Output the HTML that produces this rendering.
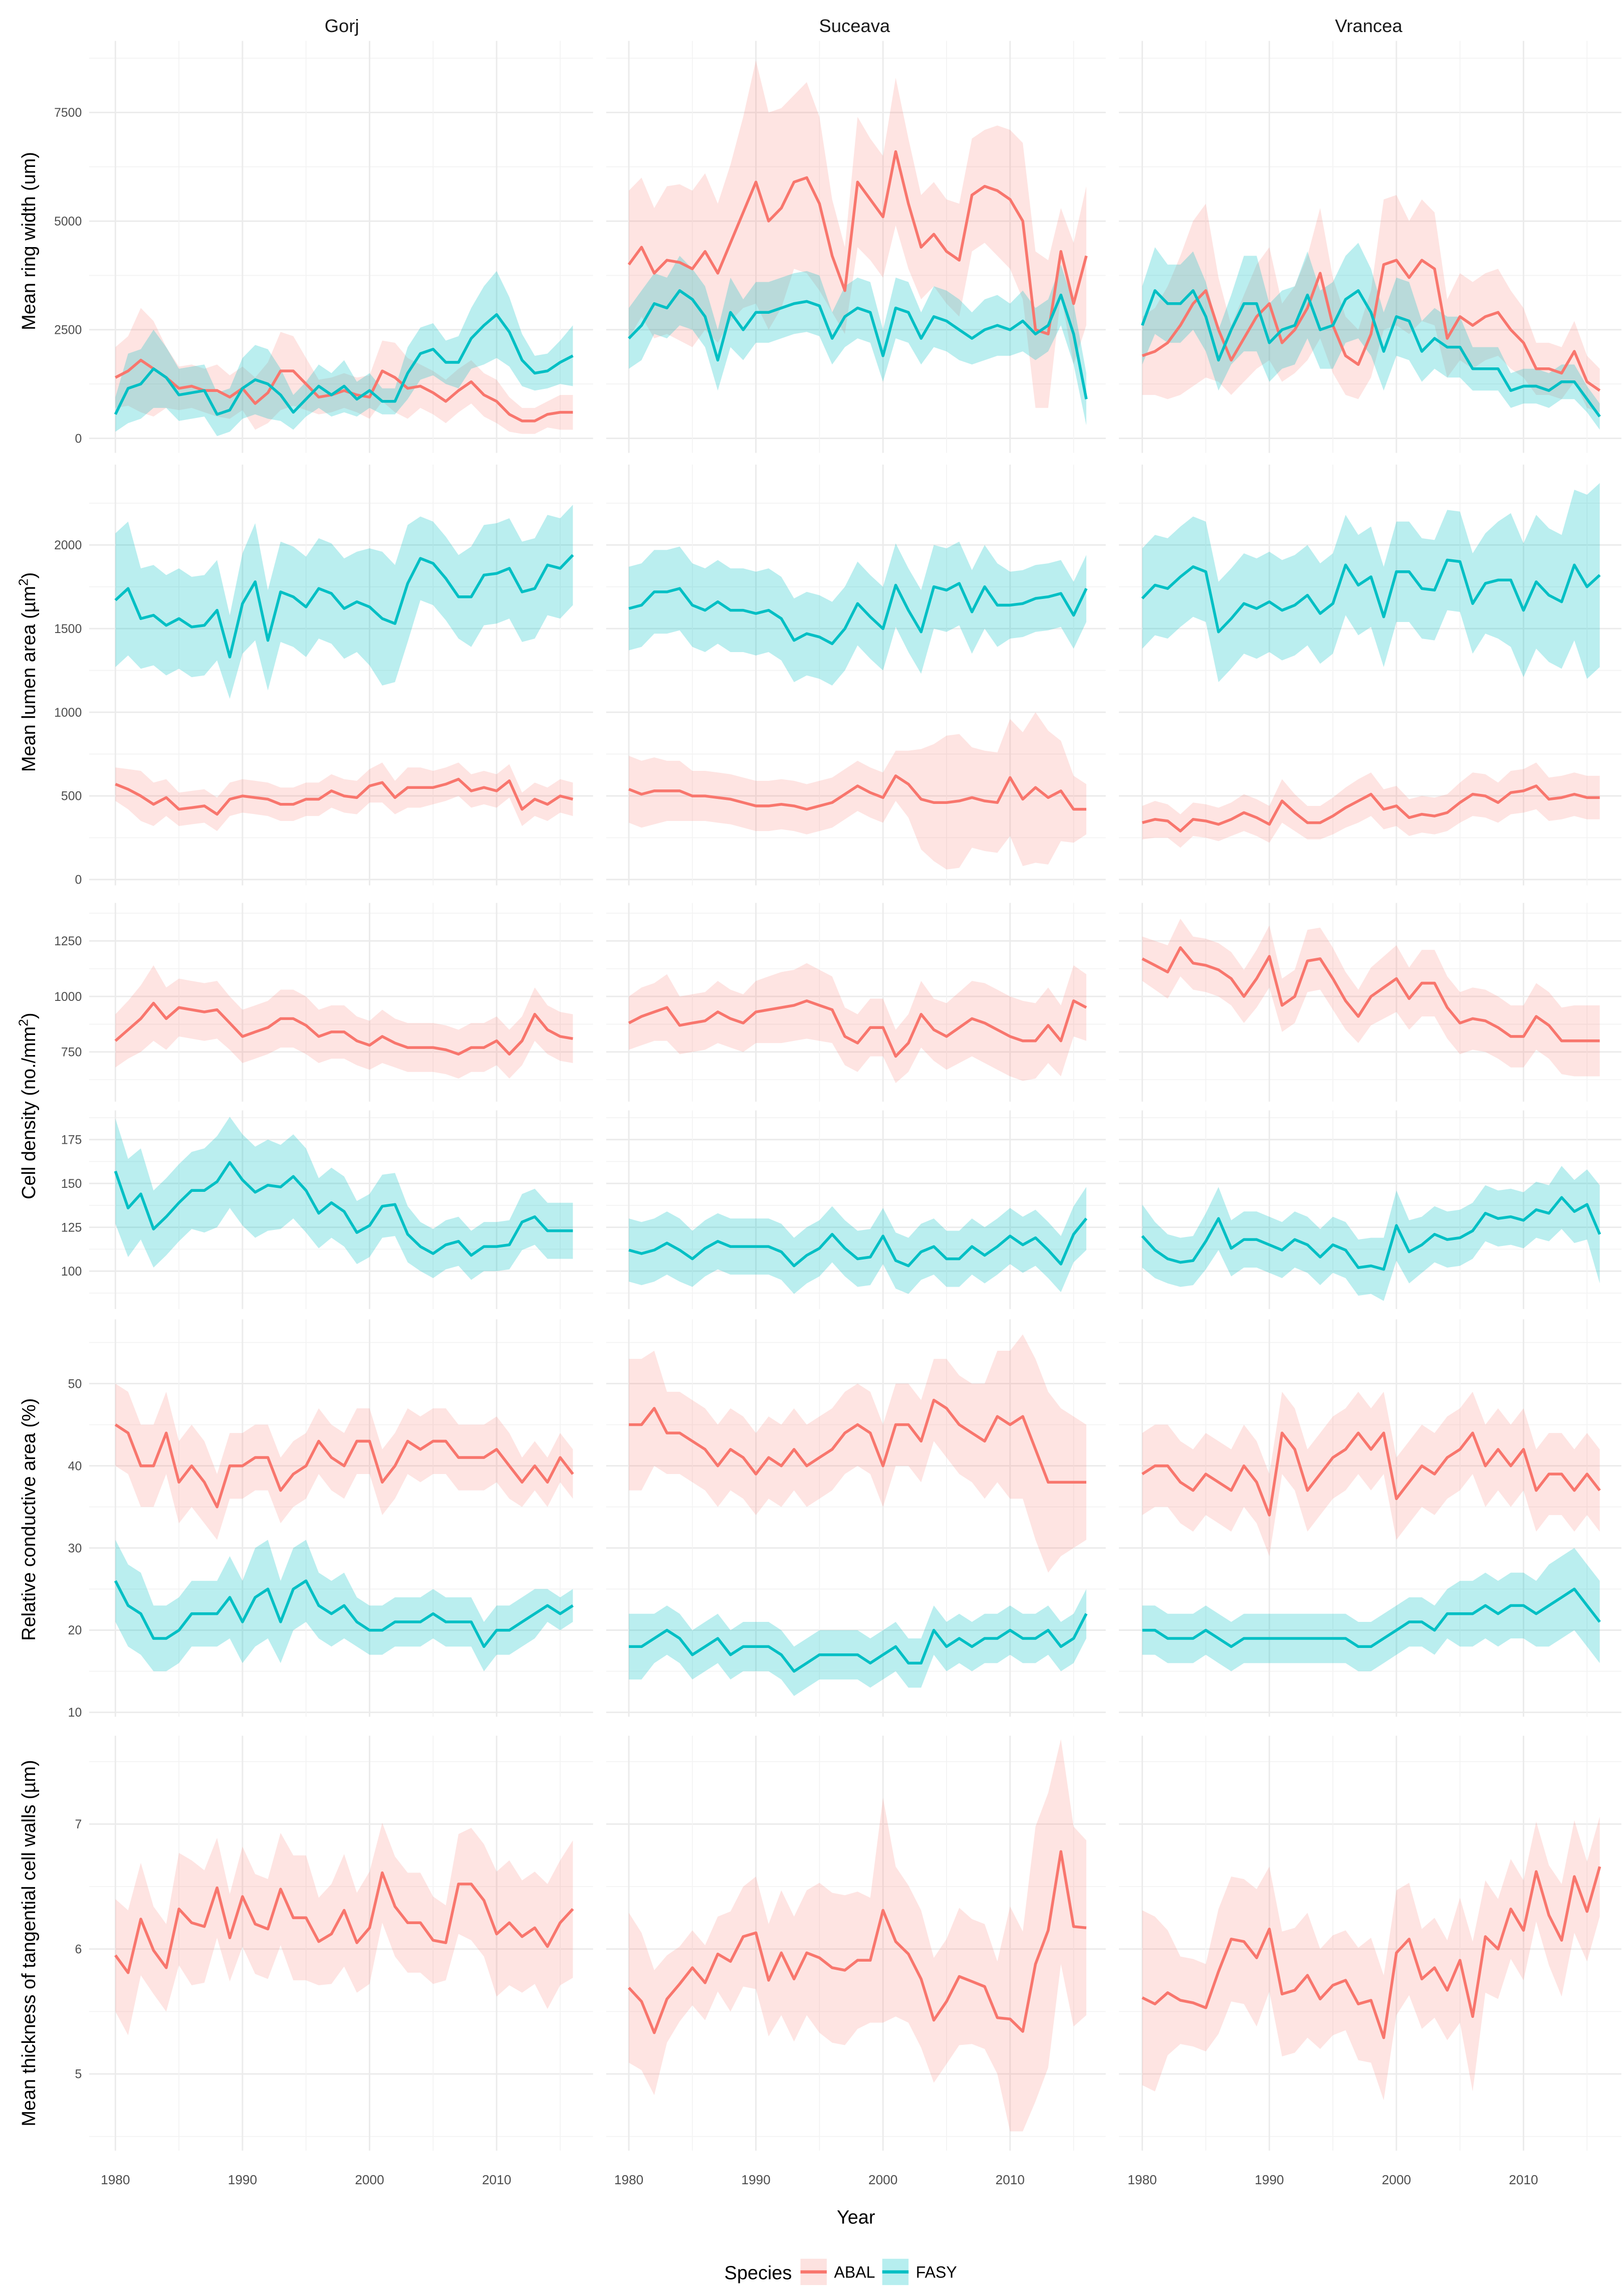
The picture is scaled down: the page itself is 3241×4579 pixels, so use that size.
<!DOCTYPE html>
<html><head><meta charset="utf-8"><style>
html,body{margin:0;padding:0;background:#fff;}
svg{display:block;}
</style></head><body>
<svg id="chart" width="3241" height="4579" viewBox="0 0 1111.8 1570.8" xmlns="http://www.w3.org/2000/svg" font-family="Liberation Sans, DejaVu Sans, sans-serif">
<g id="grid"></g><g id="bands"></g><g id="lines"></g><g id="labels"></g>
<text x="234" y="22" font-size="12.5" text-anchor="middle" fill="#1a1a1a">Gorj</text>
<text x="585" y="22" font-size="12.5" text-anchor="middle" fill="#1a1a1a">Suceava</text>
<text x="937" y="22" font-size="12.5" text-anchor="middle" fill="#1a1a1a">Vrancea</text>
<text transform="translate(24,165) rotate(-90)" font-size="13" text-anchor="middle">Mean ring width (um)</text>
<text transform="translate(24,460) rotate(-90)" font-size="13" text-anchor="middle">Mean lumen area (µm<tspan dy="-5" font-size="9">2</tspan><tspan dy="5">)</tspan></text>
<text transform="translate(24,757) rotate(-90)" font-size="13" text-anchor="middle">Cell density (no./mm<tspan dy="-5" font-size="9">2</tspan><tspan dy="5">)</tspan></text>
<text transform="translate(24,1040) rotate(-90)" font-size="13" text-anchor="middle">Relative conductive area (%)</text>
<text transform="translate(24,1330) rotate(-90)" font-size="13" text-anchor="middle">Mean thickness of tangential cell walls (µm)</text>
<text x="586" y="1522" font-size="13" text-anchor="middle">Year</text>
<g>
<text x="519" y="1560" font-size="13" text-anchor="middle">Species</text>
<rect x="548" y="1546" width="18" height="18" fill="#FDE2E0"/>
<line x1="548" y1="1555" x2="566" y2="1555" stroke="#F8766D" stroke-width="2.2"/>
<text x="571" y="1559" font-size="11">ABAL</text>
<rect x="604" y="1546" width="18" height="18" fill="#B6EEEF"/>
<line x1="604" y1="1555" x2="622" y2="1555" stroke="#00BFC4" stroke-width="2.2"/>
<text x="627" y="1559" font-size="11">FASY</text>
</g>
</svg>
<script>
const years=[1980,1981,1982,1983,1984,1985,1986,1987,1988,1989,1990,1991,1992,1993,1994,1995,1996,1997,1998,1999,2000,2001,2002,2003,2004,2005,2006,2007,2008,2009,2010,2011,2012,2013,2014,2015,2016];
const sites=["Gorj","Suceava","Vrancea"];
const xTickLabels=[1980,1990,2000,2010];
// Ring width
const ringGorjABAL=[1400,1550,1800,1600,1400,1150,1200,1100,1100,950,1150,800,1050,1550,1550,1250,950,1000,1100,1000,950,1550,1400,1150,1200,1050,850,1100,1300,1000,850,550,400,400,550,600,600];
const ringGorjABALhw=[700,800,1200,1100,700,500,500,500,600,500,500,600,700,900,800,600,400,400,400,400,500,700,800,700,500,500,500,500,500,500,500,400,300,300,300,400,400];
const ringGorjFASY=[550,1150,1250,1600,1400,1000,1050,1100,550,650,1150,1350,1250,1000,600,900,1200,1000,1200,900,1100,850,850,1500,1950,2050,1750,1750,2300,2600,2850,2450,1800,1500,1550,1750,1900];
const ringGorjFASYhw=[400,800,800,900,700,600,600,600,500,500,700,800,800,600,400,400,500,500,600,400,400,300,300,600,600,600,500,600,700,900,1000,800,600,400,400,500,700];
const ringSucABAL=[4000,4400,3800,4100,4050,3900,4300,3800,4500,5200,5900,5000,5300,5900,6000,5400,4200,3400,5900,5500,5100,6600,5400,4400,4700,4300,4100,5600,5800,5700,5500,5000,2500,2400,4300,3100,4200];
const ringSucABALhw=[1700,1600,1500,1700,1800,1800,1800,1600,1800,2200,2800,2500,2300,2000,2200,2000,1300,1000,1500,1400,1400,1700,1500,1200,1200,1200,1300,1300,1300,1500,1600,1800,1800,1700,1000,1400,1600];
const ringSucFASY=[2300,2600,3100,3000,3400,3200,2800,1800,2900,2500,2900,2900,3000,3100,3150,3050,2300,2800,3000,2900,1900,3000,2900,2300,2800,2700,2500,2300,2500,2600,2500,2700,2400,2600,3300,2400,900];
const ringSucFASYhw=[700,800,700,700,800,700,700,700,800,700,700,700,700,700,700,700,600,700,700,700,600,700,700,600,700,700,700,600,700,700,600,700,600,600,700,700,600];
const ringVraABAL=[1900,2000,2200,2600,3100,3400,2500,1800,2300,2800,3100,2200,2500,3000,3800,2600,1900,1700,2400,4000,4100,3700,4100,3900,2300,2800,2600,2800,2900,2500,2200,1600,1600,1500,2000,1300,1100];
const ringVraABALhw=[900,1000,1300,1600,1900,2000,1200,800,1000,1200,1300,900,1000,1200,1500,1100,900,800,1000,1500,1500,1300,1400,1300,900,1000,1000,1000,1000,900,800,600,600,600,700,600,500];
const ringVraFASY=[2600,3400,3100,3100,3400,2800,1800,2500,3100,3100,2200,2500,2600,3300,2500,2600,3200,3400,2900,2000,2800,2700,2000,2300,2100,2100,1600,1600,1600,1100,1200,1200,1100,1300,1300,900,500];
const ringVraFASYhw=[900,1000,900,900,900,800,700,800,1100,1100,900,900,900,1000,900,1000,1000,1100,1000,900,900,900,700,700,700,700,500,500,500,400,400,400,400,400,400,300,300];
// Lumen area
const lumGorjFASY=[1670,1740,1560,1580,1520,1560,1510,1520,1610,1330,1650,1780,1430,1720,1690,1630,1740,1710,1620,1660,1630,1560,1530,1770,1920,1890,1800,1690,1690,1820,1830,1860,1720,1740,1880,1860,1940];
const lumGorjFASYhw=[400,400,300,300,300,300,300,300,300,250,300,350,300,300,300,300,300,300,300,300,350,400,350,350,250,250,250,250,300,300,300,300,300,300,300,300,300];
const lumGorjABAL=[570,540,500,450,490,420,430,440,390,480,500,490,480,450,450,480,480,530,500,490,560,580,490,550,550,550,570,600,530,550,530,590,420,480,450,500,480];
const lumGorjABALhw=[100,120,150,130,110,100,100,100,100,100,100,100,100,100,100,100,100,100,100,100,100,120,100,120,120,100,100,100,100,100,100,100,100,100,100,100,100];
const lumSucFASY=[1620,1640,1720,1720,1740,1640,1610,1660,1610,1610,1590,1610,1560,1430,1470,1450,1410,1500,1650,1570,1500,1760,1610,1480,1750,1730,1770,1600,1750,1640,1640,1650,1680,1690,1710,1580,1740];
const lumSucFASYhw=[250,250,250,250,250,250,250,250,250,250,250,250,250,250,250,250,250,250,250,250,250,250,250,250,250,250,250,250,250,250,200,200,200,200,200,200,200];
const lumSucABAL=[540,510,530,530,530,500,500,490,480,460,440,440,450,440,420,440,460,510,560,520,490,620,570,480,460,460,470,490,470,460,610,480,550,490,530,420,420];
const lumSucABALhw=[200,200,200,180,180,150,150,150,150,150,150,150,150,150,150,150,150,150,150,150,150,150,200,300,350,400,400,300,300,300,350,400,450,400,300,200,150];
const lumVraFASY=[1680,1760,1740,1810,1870,1840,1480,1560,1650,1620,1660,1610,1640,1700,1590,1650,1880,1760,1810,1570,1840,1840,1740,1730,1910,1900,1650,1770,1790,1790,1610,1780,1700,1660,1880,1750,1820];
const lumVraFASYhw=[300,300,300,300,300,300,300,300,300,300,300,300,300,300,300,300,300,300,300,300,300,300,300,300,300,300,300,300,350,400,400,400,400,400,450,550,550];
const lumVraABAL=[340,360,350,290,360,350,330,360,400,370,330,470,400,340,340,380,430,470,510,420,440,370,390,380,400,460,510,500,460,520,530,560,480,490,510,490,490];
const lumVraABALhw=[100,110,100,100,100,100,100,100,110,110,110,130,110,100,100,110,120,130,130,120,120,110,110,110,110,120,130,130,120,130,130,140,130,130,130,130,130];
// Cell density ABAL
const denGorjABAL=[800,850,900,970,900,950,940,930,940,880,820,840,860,900,900,870,820,840,840,800,780,820,790,770,770,770,760,740,770,770,800,740,800,920,850,820,810];
const denGorjABALhw=[120,130,150,170,140,130,130,130,130,120,120,120,120,130,130,130,120,120,120,110,110,120,110,110,110,110,110,110,110,110,110,110,110,120,110,110,110];
const denSucABAL=[880,910,930,950,870,880,890,930,900,880,930,940,950,960,980,960,940,820,790,860,860,730,790,920,850,820,860,900,880,850,820,800,800,870,800,980,950];
const denSucABALhw=[120,130,130,150,130,130,130,140,130,130,140,150,160,160,170,160,150,130,130,130,130,120,130,150,140,150,160,170,180,180,180,180,170,170,160,160,150];
const denVraABAL=[1170,1140,1110,1220,1150,1140,1120,1080,1000,1080,1180,960,1000,1160,1170,1080,980,910,1000,1040,1080,990,1060,1060,950,880,900,890,860,820,820,910,870,800,800,800,800];
const denVraABALhw=[100,110,120,130,120,120,120,120,120,130,140,120,120,140,140,140,130,120,130,140,150,140,150,150,140,140,140,140,140,140,140,150,150,150,160,160,160];
// Cell density FASY
const denGorjFASY=[157,136,144,124,131,139,146,146,151,162,152,145,149,148,154,146,133,139,134,122,126,137,138,121,114,110,115,117,109,114,114,115,128,131,123,123,123];
const denGorjFASYhw=[30,28,26,22,22,22,22,24,26,26,26,26,26,24,24,24,20,20,20,18,18,18,18,16,14,14,14,14,14,14,14,14,16,16,16,16,16];
const denSucFASY=[112,110,112,116,112,107,113,117,114,114,114,114,111,103,109,113,121,113,107,108,120,106,103,111,114,107,107,114,109,114,120,115,119,112,104,121,130];
const denSucFASYhw=[18,18,18,18,18,16,16,16,16,16,16,16,16,16,16,16,16,16,16,16,16,16,16,16,16,16,16,16,16,16,16,16,16,16,16,16,18];
const denVraFASY=[120,112,107,105,106,117,130,113,118,118,115,112,118,115,108,115,112,102,103,101,126,111,115,121,118,119,123,133,130,131,129,135,133,142,134,138,121];
const denVraFASYhw=[18,16,14,14,14,16,18,16,16,16,16,16,16,16,16,16,16,16,16,18,20,18,16,16,16,16,16,16,16,16,16,16,16,18,18,20,28];
// Relative conductive area
const conGorjABAL=[45,44,40,40,44,38,40,38,35,40,40,41,41,37,39,40,43,41,40,43,43,38,40,43,42,43,43,41,41,41,42,40,38,40,38,41,39];
const conGorjABALhw=[5,5,5,5,5,5,5,5,4,4,4,4,4,4,4,4,4,4,4,4,4,4,4,4,4,4,4,4,4,4,4,4,3,3,3,3,3];
const conGorjFASY=[26,23,22,19,19,20,22,22,22,24,21,24,25,21,25,26,23,22,23,21,20,20,21,21,21,22,21,21,21,18,20,20,21,22,23,22,23];
const conGorjFASYhw=[5,5,5,4,4,4,4,4,4,5,5,6,6,5,5,5,4,4,4,3,3,3,3,3,3,3,3,3,3,3,3,3,3,3,2,2,2];
const conSucABAL=[45,45,47,44,44,43,42,40,42,41,39,41,40,42,40,41,42,44,45,44,40,45,45,43,48,47,45,44,43,46,45,46,42,38,38,38,38];
const conSucABALhw=[8,8,7,5,5,5,5,5,5,5,5,5,5,5,5,5,5,5,5,5,5,5,5,5,5,6,6,6,7,8,9,10,11,11,9,8,7];
const conSucFASY=[18,18,19,20,19,17,18,19,17,18,18,18,17,15,16,17,17,17,17,16,17,18,16,16,20,18,19,18,19,19,20,19,19,20,18,19,22];
const conSucFASYhw=[4,4,3,3,3,3,3,3,3,3,3,3,3,3,3,3,3,3,3,3,3,3,3,3,3,3,3,3,3,3,3,3,3,3,3,3,3];
const conVraABAL=[39,40,40,38,37,39,38,37,40,38,34,44,42,37,39,41,42,44,42,44,36,38,40,39,41,42,44,40,42,40,42,37,39,39,37,39,37];
const conVraABALhw=[5,5,5,5,5,5,5,5,5,5,5,5,5,5,5,5,5,5,5,5,5,5,5,5,5,5,5,5,5,5,5,5,5,5,5,5,5];
const conVraFASY=[20,20,19,19,19,20,19,18,19,19,19,19,19,19,19,19,19,18,18,19,20,21,21,20,22,22,22,23,22,23,23,22,23,24,25,23,21];
const conVraFASYhw=[3,3,3,3,3,3,3,3,3,3,3,3,3,3,3,3,3,3,3,3,3,3,3,3,3,4,4,4,4,4,4,4,5,5,5,5,5];
// Wall thickness
const thkGorjABAL=[5.95,5.81,6.24,5.99,5.85,6.32,6.21,6.18,6.49,6.09,6.42,6.2,6.16,6.48,6.25,6.25,6.06,6.12,6.31,6.05,6.17,6.61,6.34,6.21,6.21,6.07,6.05,6.52,6.52,6.39,6.12,6.21,6.1,6.17,6.02,6.21,6.32];
const thkGorjABALhw=[0.45,0.5,0.45,0.35,0.35,0.45,0.5,0.45,0.4,0.35,0.4,0.4,0.4,0.45,0.5,0.5,0.35,0.4,0.45,0.4,0.45,0.4,0.4,0.4,0.4,0.35,0.3,0.4,0.45,0.45,0.5,0.5,0.45,0.45,0.5,0.5,0.55];
const thkSucABAL=[5.69,5.58,5.33,5.6,5.72,5.85,5.73,5.96,5.9,6.1,6.13,5.75,5.97,5.76,5.97,5.93,5.85,5.83,5.91,5.91,6.31,6.06,5.96,5.76,5.43,5.58,5.78,5.74,5.7,5.45,5.44,5.34,5.88,6.15,6.78,6.18,6.17];
const thkSucABALhw=[0.6,0.55,0.5,0.35,0.3,0.3,0.3,0.3,0.4,0.4,0.45,0.45,0.5,0.5,0.5,0.6,0.6,0.6,0.55,0.5,0.9,0.6,0.55,0.55,0.5,0.5,0.55,0.5,0.5,0.45,0.9,0.8,1.1,1.1,0.9,0.8,0.7];
const thkVraABAL=[5.61,5.56,5.65,5.59,5.57,5.53,5.82,6.08,6.06,5.93,6.16,5.64,5.67,5.79,5.6,5.71,5.75,5.56,5.59,5.29,5.97,6.08,5.76,5.85,5.67,5.91,5.46,6.1,6.0,6.32,6.15,6.62,6.27,6.07,6.58,6.3,6.66];
const thkVraABALhw=[0.7,0.7,0.5,0.35,0.35,0.35,0.5,0.5,0.5,0.55,0.5,0.5,0.5,0.5,0.4,0.4,0.4,0.45,0.5,0.5,0.5,0.45,0.4,0.4,0.4,0.5,0.6,0.45,0.4,0.4,0.4,0.4,0.4,0.45,0.45,0.4,0.4];

const NS="http://www.w3.org/2000/svg";
const ABAL="#F8766D", FASY="#00BFC4", ABALF="rgba(248,118,109,0.2)", FASYF="rgba(0,191,196,0.27)";
// panel rows: top/bottom in px, value->y mapping via two ref values
const rows=[
 {top:28,bot:310,v0:0,y0:300,v1:7500,y1:77,ticks:[0,2500,5000,7500],minor:[1250,3750,6250,8750],
  series:[[ringGorjABAL,ringGorjABALhw,ringSucABAL,ringSucABALhw,ringVraABAL,ringVraABALhw,"ABAL"],[ringGorjFASY,ringGorjFASYhw,ringSucFASY,ringSucFASYhw,ringVraFASY,ringVraFASYhw,"FASY"]],name:"ring-width"},
 {top:318,bot:606,v0:0,y0:602,v1:2000,y1:373,ticks:[0,500,1000,1500,2000],minor:[250,750,1250,1750,2250],
  series:[[lumGorjABAL,lumGorjABALhw,lumSucABAL,lumSucABALhw,lumVraABAL,lumVraABALhw,"ABAL"],[lumGorjFASY,lumGorjFASYhw,lumSucFASY,lumSucFASYhw,lumVraFASY,lumVraFASYhw,"FASY"]],name:"lumen-area"},
 {top:618,bot:754,v0:750,y0:720,v1:1250,y1:644,ticks:[750,1000,1250],minor:[625,875,1125,1375],
  series:[[denGorjABAL,denGorjABALhw,denSucABAL,denSucABALhw,denVraABAL,denVraABALhw,"ABAL"]],name:"density-abal"},
 {top:760,bot:896,v0:100,y0:870,v1:175,y1:780,ticks:[100,125,150,175],minor:[87.5,112.5,137.5,162.5,187.5],
  series:[[denGorjFASY,denGorjFASYhw,denSucFASY,denSucFASYhw,denVraFASY,denVraFASYhw,"FASY"]],name:"density-fasy"},
 {top:903,bot:1175,v0:10,y0:1172,v1:50,y1:947,ticks:[10,20,30,40,50],minor:[15,25,35,45,55],
  series:[[conGorjABAL,conGorjABALhw,conSucABAL,conSucABALhw,conVraABAL,conVraABALhw,"ABAL"],[conGorjFASY,conGorjFASYhw,conSucFASY,conSucFASYhw,conVraFASY,conVraFASYhw,"FASY"]],name:"conductive-area"},
 {top:1188,bot:1472,v0:6,y0:1334,v1:7,y1:1248.5,ticks:[5,6,7],minor:[4.5,5.5,6.5,7.5],
  series:[[thkGorjABAL,thkGorjABALhw,thkSucABAL,thkSucABALhw,thkVraABAL,thkVraABALhw,"ABAL"]],name:"wall-thickness"}
];
const colLeft=[61,415,766], colRight=[406,757,1110];
function xScale(col,yr){return 79+col*351.5+(yr-1980)*8.7;}
function yScale(r,v){return r.y0+(v-r.v0)*(r.y1-r.y0)/(r.v1-r.v0);}
function mk(tag,attrs,parent){const e=document.createElementNS(NS,tag);for(const k in attrs)e.setAttribute(k,attrs[k]);parent.appendChild(e);return e;}
const G=document.getElementById("grid"),B=document.getElementById("bands"),L=document.getElementById("lines"),T=document.getElementById("labels");
rows.forEach((r,ri)=>{
 for(let c=0;c<3;c++){
  r.minor.forEach(v=>{const y=yScale(r,v);if(y<r.top||y>r.bot)return;
   const l=mk("line",{x1:colLeft[c],x2:colRight[c],y1:y,y2:y,stroke:"#F3F3F3","stroke-width":0.6},G);
   
   });
  r.ticks.forEach(v=>{const y=yScale(r,v);
   const l=mk("line",{x1:colLeft[c],x2:colRight[c],y1:y,y2:y,stroke:"#EBEBEB","stroke-width":1},G);
   
   });
  [1985,1995,2005,2015].forEach(yr=>{const x=xScale(c,yr);
   const l=mk("line",{x1:x,x2:x,y1:r.top,y2:r.bot,stroke:"#F3F3F3","stroke-width":0.6},G);
   
   });
  xTickLabels.forEach(yr=>{const x=xScale(c,yr);
   const l=mk("line",{x1:x,x2:x,y1:r.top,y2:r.bot,stroke:"#EBEBEB","stroke-width":1},G);
   
   });
  r.series.forEach(s=>{
   const vals=s[c*2],hw=s[c*2+1],sp=s[6];
   let up=[],lo=[],ln=[];
   vals.forEach((v,i)=>{const x=xScale(c,years[i]);
    up.push(x.toFixed(1)+","+yScale(r,v+hw[i]).toFixed(1));
    lo.unshift(x.toFixed(1)+","+yScale(r,v-hw[i]).toFixed(1));
    ln.push(x.toFixed(1)+","+yScale(r,v).toFixed(1));});
   const band=mk("polygon",{points:up.concat(lo).join(" "),fill:sp==="ABAL"?ABALF:FASYF,stroke:"none"},B);
   
   
   const line=mk("polyline",{points:ln.join(" "),fill:"none",stroke:sp==="ABAL"?ABAL:FASY,"stroke-width":1.9,"stroke-linejoin":"round"},L);
   
   
  });
 }
 r.ticks.forEach(v=>{
  const t=mk("text",{x:56,y:yScale(r,v)+3,"font-size":8.5,"text-anchor":"end",fill:"#4D4D4D"},T);
  t.textContent=v;
  
  
 });
});
for(let c=0;c<3;c++){
 xTickLabels.forEach(yr=>{
  const t=mk("text",{x:xScale(c,yr),y:1495,"font-size":9,"text-anchor":"middle",fill:"#4D4D4D"},T);
  t.textContent=yr;
  
  
 });
}
</script>
</body></html>
